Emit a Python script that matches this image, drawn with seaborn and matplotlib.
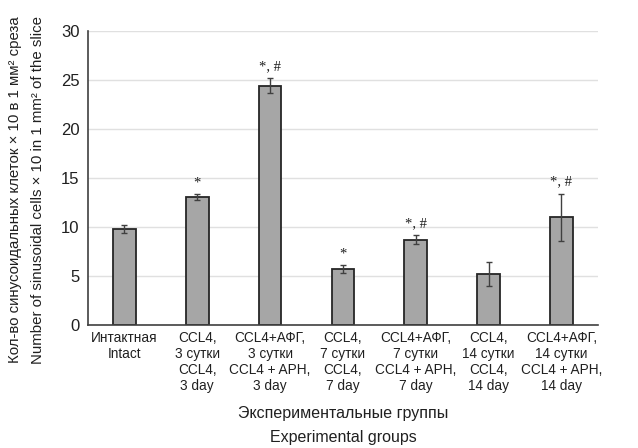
import numpy as np
import pandas as pd
import seaborn as sns
import matplotlib.pyplot as plt

# Data
groups = [
    "Интактная\nIntact",
    "CCL4,\n3 сутки\nCCL4,\n3 day",
    "CCL4+АФГ,\n3 сутки\nCCL4 + APH,\n3 day",
    "CCL4,\n7 сутки\nCCL4,\n7 day",
    "CCL4+АФГ,\n7 сутки\nCCL4 + APH,\n7 day",
    "CCL4,\n14 сутки\nCCL4,\n14 day",
    "CCL4+АФГ,\n14 сутки\nCCL4 + APH,\n14 day",
]
values = [9.8, 13.0, 24.4, 5.7, 8.7, 5.2, 11.0]
errors = [0.4, 0.3, 0.8, 0.4, 0.45, 1.2, 2.4]
marks = ["", "*", "*, #", "*", "*, #", "", "*, #"]
y_ticks = [0, 5, 10, 15, 20, 25, 30]

sns.set_theme(style="white")
plt.rcParams["font.family"] = ["Liberation Sans", "DejaVu Sans"]

fig = plt.figure(figsize=(6.38, 4.48), dpi=100)
ax = fig.add_axes([0.138, 0.2746, 0.799, 0.657])

df = pd.DataFrame({"group": groups, "value": values})
sns.barplot(data=df, x="group", y="value", ax=ax, width=0.31,
            color="#a6a6a6", edgecolor="#262626", linewidth=1.3, saturation=1)
ax.errorbar(np.arange(len(values)), values, yerr=errors, fmt="none",
            ecolor="#404040", elinewidth=1.0, capsize=2, capthick=1.0)

# significance marks
for i, (v, e, m) in enumerate(zip(values, errors, marks)):
    if m:
        ax.text(i, v + e + 0.5, m, ha="center", va="bottom", fontsize=10.5,
                family=["Liberation Serif", "DejaVu Serif"], color="#202020")

ax.set_ylim(0, 30)
ax.set_xlim(-0.5, len(values) - 0.5)
ax.set_yticks(y_ticks)
ax.tick_params(axis="y", labelsize=12, length=0, pad=6, colors="#202020")
ax.tick_params(axis="x", labelsize=9.8, length=0, pad=4, colors="#202020")
ax.set_xlabel("")
ax.set_ylabel("")
ax.yaxis.grid(True, color="#e0e0e0", linewidth=1)
ax.set_axisbelow(True)
for s in ["top", "right"]:
    ax.spines[s].set_visible(False)
for s in ["left", "bottom"]:
    ax.spines[s].set_color("#404040")
    ax.spines[s].set_linewidth(1.2)
for lbl in ax.get_xticklabels():
    lbl.set_linespacing(1.2)

fig.text(15 / 638, 1 - 190 / 448,
         "Кол-во синусоидальных клеток × 10 в 1 мм² среза",
         rotation=90, ha="center", va="center", fontsize=10.8, color="#202020")
fig.text(38 / 638, 1 - 190 / 448,
         "Number of sinusoidal cells × 10 in 1 mm² of the slice",
         rotation=90, ha="center", va="center", fontsize=10.8, color="#202020")
fig.text(343 / 638, 1 - 413 / 448, "Экспериментальные группы",
         ha="center", va="center", fontsize=11.5, color="#202020")
fig.text(343 / 638, 1 - 437 / 448, "Experimental groups",
         ha="center", va="center", fontsize=11.5, color="#202020")

fig.savefig("out.png", dpi=100)
